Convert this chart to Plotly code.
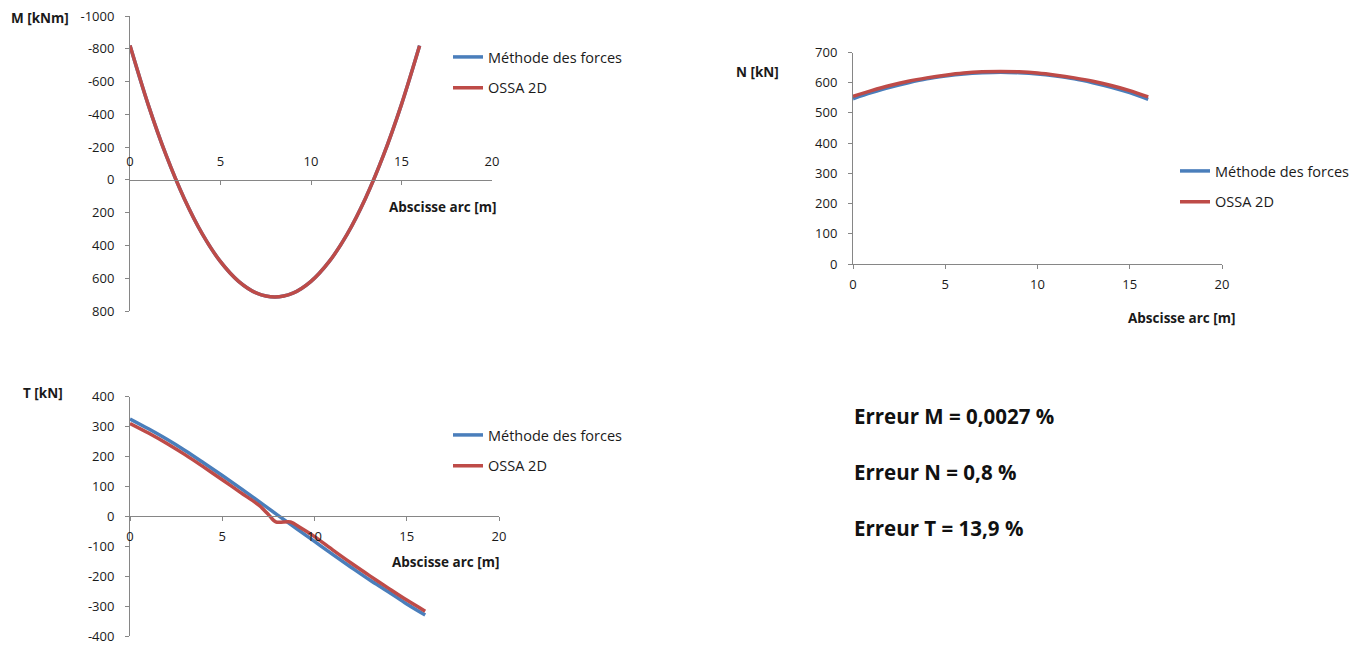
import plotly.graph_objects as go

# Abscissa along the arch [m]
s = [0, 1, 2, 3, 4, 5, 6, 7, 8, 9, 10, 11, 12, 13, 14, 15, 16]

# Bending moment M [kNm]
m_forces = [-820, -461, -149, 115, 331, 499, 619, 691, 715, 691, 619, 499, 331, 115, -149, -461, -820]
m_ossa = [-820, -461, -149, 115, 331, 499, 619, 691, 715, 691, 619, 499, 331, 115, -149, -461, -818]

# Normal force N [kN]
n_forces = [547, 567, 585, 600, 613, 622, 629, 633, 635, 633, 629, 622, 613, 600, 585, 567, 545]
n_ossa = [555, 574, 591, 605, 616, 625, 632, 636, 637, 636, 632, 625, 616, 605, 591, 574, 553]

# Shear force T [kN]
t_forces = [325, 292, 257, 219, 178, 136, 93, 49, 4, -40, -84, -128, -171, -213, -252, -293, -330]
s_t_ossa = [0, 1, 2, 3, 4, 5, 6, 7, 7.5, 7.9, 8.7, 9.2, 10, 11, 12, 13, 14, 15, 16]
t_ossa = [310, 278, 243, 205, 164, 122, 79, 36, 6, -19, -19, -37, -68, -113, -157, -199, -240, -280, -317]

# Axis ticks
x_ticks = [0, 5, 10, 15, 20]
m_ticks = [-1000, -800, -600, -400, -200, 0, 200, 400, 600, 800]
n_ticks = [0, 100, 200, 300, 400, 500, 600, 700]
t_ticks = [-400, -300, -200, -100, 0, 100, 200, 300, 400]

series_names = ["Méthode des forces", "OSSA 2D"]
errors = ["Erreur M = 0,0027 %", "Erreur N = 0,8 %", "Erreur T = 13,9 %"]

BLUE = "#4A7EBB"
RED = "#BE4B48"
AXIS = "#868686"
TEXT = "#1a1a1a"
FONT = "'Open Sans', sans-serif"
W, H = 1365, 645


def px(x):
    return x / W


def py(y):
    return 1 - y / H


def labels(vals):
    # plain hyphen-minus for negative numbers
    return [str(v) for v in vals]


fig = go.Figure()

panels = [
    ("x", "y", "legend", s, m_forces, s, m_ossa),
    ("x2", "y2", "legend2", s, n_forces, s, n_ossa),
    ("x3", "y3", "legend3", s, t_forces, s_t_ossa, t_ossa),
]
for xa, ya, leg, xb, yb, xr, yr in panels:
    fig.add_trace(go.Scatter(
        x=xb, y=yb, mode="lines", name=series_names[0],
        line=dict(color=BLUE, width=3.5, shape="spline", smoothing=1.0),
        xaxis=xa, yaxis=ya, legend=leg, legendgroup=leg + "a",
    ))
    fig.add_trace(go.Scatter(
        x=xr, y=yr, mode="lines", name=series_names[1],
        line=dict(color=RED, width=3.5, shape="spline", smoothing=0.9),
        xaxis=xa, yaxis=ya, legend=leg, legendgroup=leg + "b",
    ))

common = dict(
    showgrid=False, zeroline=False, showline=True, linecolor=AXIS, linewidth=1,
    tickcolor=AXIS, ticklen=4, automargin=False, tickmode="array",
    ticklabeloverflow="allow",
    tickfont=dict(family=FONT, size=13, color=TEXT),
)
xt = dict(tickvals=x_ticks, ticktext=labels(x_ticks))

# shear panel: vertical extent in pixels, horizontal axis drawn through T = 0
t_top, t_bottom = 396.5, 636
t_zero = (t_top + t_bottom) / 2

fig.update_layout(
    width=W, height=H, margin=dict(l=0, r=0, t=0, b=0),
    paper_bgcolor="white", plot_bgcolor="white",
    font=dict(family=FONT, color=TEXT),
    xaxis=dict(domain=[px(130), px(492)], range=[0, 20], anchor="free",
               position=py(180), side="top", ticks="inside", ticklabelstandoff=9,
               **xt, **common),
    yaxis=dict(domain=[py(311), py(16)], range=[800, -1000], anchor="x",
               tickvals=m_ticks, ticktext=labels(m_ticks),
               ticks="outside", ticklabelstandoff=8, **common),
    xaxis2=dict(domain=[px(853), px(1222)], range=[0, 20], anchor="y2",
                ticks="outside", ticklabelstandoff=4, **xt, **common),
    yaxis2=dict(domain=[py(264), py(52.5)], range=[0, 700], anchor="x2",
                tickvals=n_ticks, ticktext=labels(n_ticks),
                ticks="outside", ticklabelstandoff=8, **common),
    xaxis3=dict(domain=[px(130), px(499)], range=[0, 20], anchor="free",
                position=py(t_zero), side="bottom", ticks="outside", ticklabelstandoff=4,
                **xt, **common),
    yaxis3=dict(domain=[py(t_bottom), py(t_top)], range=[-400, 400], anchor="x3",
                tickvals=t_ticks, ticktext=labels(t_ticks),
                ticks="outside", ticklabelstandoff=8, **common),
)

legend_style = dict(
    xanchor="left", yanchor="top", bgcolor="rgba(0,0,0,0)", borderwidth=0,
    font=dict(family=FONT, size=14.5, color=TEXT), tracegroupgap=9,
)
fig.update_layout(
    legend=dict(x=px(448), y=py(41), **legend_style),
    legend2=dict(x=px(1175), y=py(155), **legend_style),
    legend3=dict(x=px(448), y=py(419), **legend_style),
)

title_font = dict(family=FONT, size=13.5, color=TEXT, weight="bold")
annotations = [
    dict(text="M [kNm]", x=px(9), y=py(18), xanchor="left"),
    dict(text="Abscisse arc [m]", x=px(442), y=py(207), xanchor="center"),
    dict(text="N [kN]", x=px(734), y=py(72), xanchor="left"),
    dict(text="Abscisse arc [m]", x=px(1181), y=py(318), xanchor="center"),
    dict(text="T [kN]", x=px(21), y=py(393), xanchor="left"),
    dict(text="Abscisse arc [m]", x=px(445), y=py(562), xanchor="center"),
]
for a in annotations:
    fig.add_annotation(xref="paper", yref="paper", yanchor="middle",
                       showarrow=False, font=title_font, **a)

for text, yc in zip(errors, [416, 472, 528]):
    fig.add_annotation(text=text, xref="paper", yref="paper", x=px(852), y=py(yc),
                       xanchor="left", yanchor="middle", showarrow=False,
                       font=dict(family=FONT, size=20.5, color="#111111", weight="bold"))

fig.write_html("out.html")
